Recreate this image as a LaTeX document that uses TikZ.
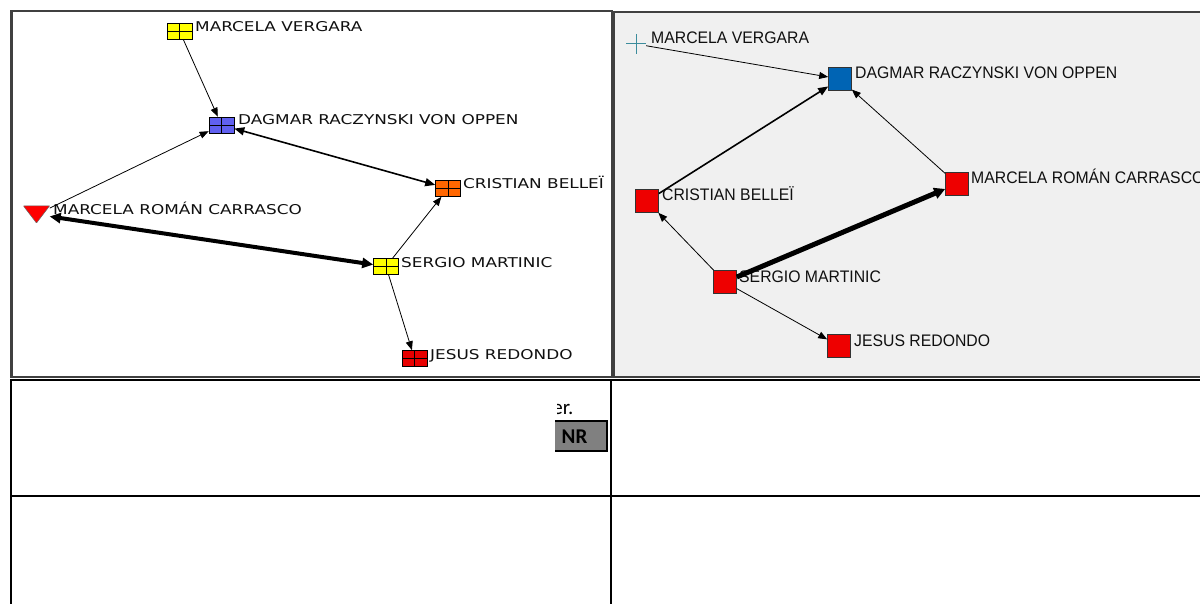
\documentclass[tikz,border=0pt]{standalone}
\usepackage{fontspec}
\usetikzlibrary{arrows.meta}
\newfontfamily\leftfont[FakeStretch=1.25]{DejaVu Sans}
\newfontfamily\rightfont[FakeStretch=0.945]{Liberation Sans}
\newfontfamily\cellfont{Carlito}
\definecolor{yel}{HTML}{FFFF00}
\definecolor{blu}{HTML}{6060F0}
\definecolor{ora}{HTML}{FF6600}
\definecolor{redL}{HTML}{E80000}
\definecolor{triR}{HTML}{FF0000}
\definecolor{redR}{HTML}{EE0000}
\definecolor{bluR}{HTML}{0064B4}
\definecolor{crossc}{HTML}{3C8C9C}
\definecolor{panelc}{HTML}{F0F0F0}
\definecolor{framec}{HTML}{404040}
\definecolor{nrgray}{HTML}{808080}
\definecolor{txt}{HTML}{101010}
\tikzset{
  gsq/.style={rectangle, draw=black, line width=0.6pt, minimum width=25pt, minimum height=16pt, inner sep=0pt,
    path picture={\draw[line width=0.6pt] (path picture bounding box.north) -- (path picture bounding box.south)
      (path picture bounding box.west) -- (path picture bounding box.east);}},
  tri/.style={rectangle, minimum width=26pt, minimum height=17pt, inner sep=0pt,
    path picture={\fill[triR, draw=black!60, line width=0.5pt] (path picture bounding box.north west) -- (path picture bounding box.north east) -- (path picture bounding box.south) -- cycle;}},
  rsq/.style={rectangle, draw=black!80, line width=0.6pt, minimum size=23pt, inner sep=0pt, fill=redR},
  crossn/.style={rectangle, minimum size=20pt, inner sep=0pt,
    path picture={\draw[crossc, line width=1pt] (path picture bounding box.north) -- (path picture bounding box.south)
      (path picture bounding box.west) -- (path picture bounding box.east);}},
  lblL/.style={anchor=base west, inner sep=0pt, text=txt, font=\leftfont\fontsize{13.5}{15}\selectfont},
  lblR/.style={anchor=base west, inner sep=0pt, text=txt, font=\rightfont\fontsize{16.7}{19}\selectfont},
  ethin/.style={line width=0.8pt, -{Triangle[length=9pt,width=7pt]}},
  emed/.style={line width=1.6pt, {Triangle[length=10pt,width=8pt]}-{Triangle[length=10pt,width=8pt]}},
  emedR/.style={line width=1.6pt, -{Triangle[length=10pt,width=8pt]}},
  ethick/.style={line width=4pt, {Triangle[length=11pt,width=10pt]}-{Triangle[length=11pt,width=10pt]}},
  ethickR/.style={line width=5pt, -{Triangle[length=11pt,width=11pt]}},
  tline/.style={line width=2pt, black}
}
\begin{document}
\begin{tikzpicture}[x=1pt, y=-1pt]
\useasboundingbox (0,0) rectangle (1200,604);
\fill[white] (0,0) rectangle (1200,604);
% left panel frame
\draw[framec, line width=2.5pt, fill=white] (11.5,11) rectangle (612,377);
% right panel
\fill[panelc] (614,12) rectangle (1200,377);
\draw[framec, line width=2pt] (1200,12) -- (614,12) -- (614,377) -- (1200,377);

% ---------- left graph ----------
\node[gsq, fill=yel] (mvL) at (179.5,31) {};
\node[gsq, fill=blu] (dagL) at (221.5,125) {};
\node[gsq, fill=ora] (cbL) at (448,188.5) {};
\node[tri] (mrcL) at (36.5,214.5) {};
\node[gsq, fill=yel] (smL) at (386,266.5) {};
\node[gsq, fill=redL] (jrL) at (414.5,358.5) {};

\node[lblL] (mvLt) at (195,32) {MARCELA VERGARA};
\node[lblL] (dagLt) at (238,125) {DAGMAR RACZYNSKI VON OPPEN};
\node[lblL] (cbLt) at (463,189) {CRISTIAN BELLEÏ};
\node[lblL] (mrcLt) at (53,215) {MARCELA ROMÁN CARRASCO};
\node[lblL] (smLt) at (401,268) {SERGIO MARTINIC};
\node[lblL] (jrLt) at (430,359) {JESUS REDONDO};

\draw[ethin] (mvL) -- (dagL);
\draw[ethin] (mrcL) -- (dagL);
\draw[emed] (dagL) -- (cbL);
\draw[ethick] (mrcL) -- (smL);
\draw[ethin] (smL) -- (cbL);
\draw[ethin] (smL) -- (jrL);

% ---------- right graph ----------
\node[crossn] (mvR) at (636,44) {};
\node[rsq, fill=bluR] (dagR) at (840,79) {};
\node[rsq] (mrcR) at (957,184) {};
\node[rsq] (cbR) at (647,201) {};
\node[rsq] (smR) at (725,282) {};
\node[rsq] (jrR) at (839,346) {};

\node[lblR] (mvRt) at (651,44) {MARCELA VERGARA};
\node[lblR] (dagRt) at (855,79) {DAGMAR RACZYNSKI VON OPPEN};
\node[lblR] (mrcRt) at (971,184) {MARCELA ROMÁN CARRASCO};
\node[lblR] (cbRt) at (662,201) {CRISTIAN BELLEÏ};
\node[lblR] (smRt) at (739,283) {SERGIO MARTINIC};
\node[lblR] (jrRt) at (854,346) {JESUS REDONDO};

\draw[ethin] (mvR) -- (dagR);
\draw[emedR] (cbR) -- (dagR);
\draw[ethin] (mrcR) -- (dagR);
\draw[ethickR] (smR) -- (mrcR);
\draw[ethin] (smR) -- (cbR);
\draw[ethin] (smR) -- (jrR);

% ---------- table ----------
\draw[tline] (10,380) -- (1200,380);
\draw[tline] (10,496) -- (1200,496);
\draw[tline] (11,379) -- (11,604);
\draw[tline] (611,379) -- (611,604);

\begin{scope}
\clip (557,390) rectangle (600,420);
\node[anchor=base east, inner sep=0pt, font=\cellfont\fontsize{21}{24}\selectfont] (ertxt) at (573.5,414) {er.};
\end{scope}
\fill[nrgray] (555,421) rectangle (607,451);
\draw[black, line width=2pt] (555,421) -- (607,421) -- (607,451) -- (555,451);
\node[anchor=base west, inner sep=0pt, font=\cellfont\bfseries\fontsize{21}{24}\selectfont] (nr) at (561.5,443.5) {NR};
\end{tikzpicture}
\end{document}
